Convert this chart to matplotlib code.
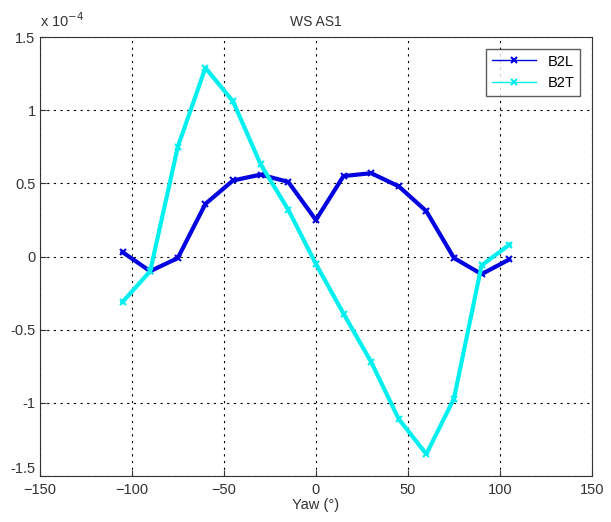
import numpy as np
import matplotlib.pyplot as plt

plt.rcParams['font.family'] = ['Liberation Sans', 'DejaVu Sans']

# Dados (escala x 10^-4)
yaw = [-105, -90, -75, -60, -45, -30, -15, 0, 15, 30, 45, 60, 75, 90, 105]
b2l = [0.03, -0.10, -0.01, 0.36, 0.52, 0.56, 0.51, 0.25, 0.55, 0.57, 0.48, 0.31, -0.01, -0.12, -0.02]
b2t = [-0.31, -0.10, 0.75, 1.29, 1.06, 0.63, 0.32, -0.05, -0.39, -0.72, -1.11, -1.35, -0.97, -0.06, 0.08]

xticks = [-150, -100, -50, 0, 50, 100, 150]
yticks = [-1.5, -1, -0.5, 0, 0.5, 1, 1.5]
ytick_labels = ['-1.5', '-1', '-0.5', '0', '0.5', '1', '1.5']

fig = plt.figure(figsize=(6.11, 5.22), dpi=100)
ax = fig.add_axes([0.065, 0.088, 0.904, 0.841])

ax.plot(yaw, b2l, color='#0000e0', lw=3, marker='x', ms=4, mew=1.5, label='B2L')
ax.plot(yaw, b2t, color='#00f0f0', lw=3, marker='x', ms=4, mew=1.5, label='B2T')

ax.set_xlim(-150, 150)
ax.set_ylim(-1.5, 1.5)
ax.set_xticks(xticks)
ax.set_yticks(yticks)
ax.set_yticklabels(ytick_labels)
ax.grid(True, color='black', linestyle=(0, (2, 4)), lw=0.8)
ax.tick_params(direction='in', length=4, labelsize=10.5, colors='#333333', pad=3)
ax.tick_params(axis='x', pad=5)
# evita sobreposição no canto inferior esquerdo
ax.get_yticklabels()[0].set_va('bottom')
for s in ax.spines.values():
    s.set_color('#333333')

ax.set_title('WS AS1', fontsize=10, color='#333333', pad=8)
ax.set_xlabel('Yaw (°)', fontsize=10.5, color='#333333', labelpad=1)
ax.text(0.0, 1.015, r'x 10$^{-4}$', transform=ax.transAxes, fontsize=10.5,
        color='#333333', ha='left', va='bottom')

leg = ax.legend(loc='upper right', fontsize=10.5, fancybox=False, edgecolor='#333333',
                handlelength=3, borderaxespad=0.8)
for h in leg.get_lines():
    h.set_linewidth(1)
    h.set_markersize(4)

fig.savefig('out.png', dpi=100)
